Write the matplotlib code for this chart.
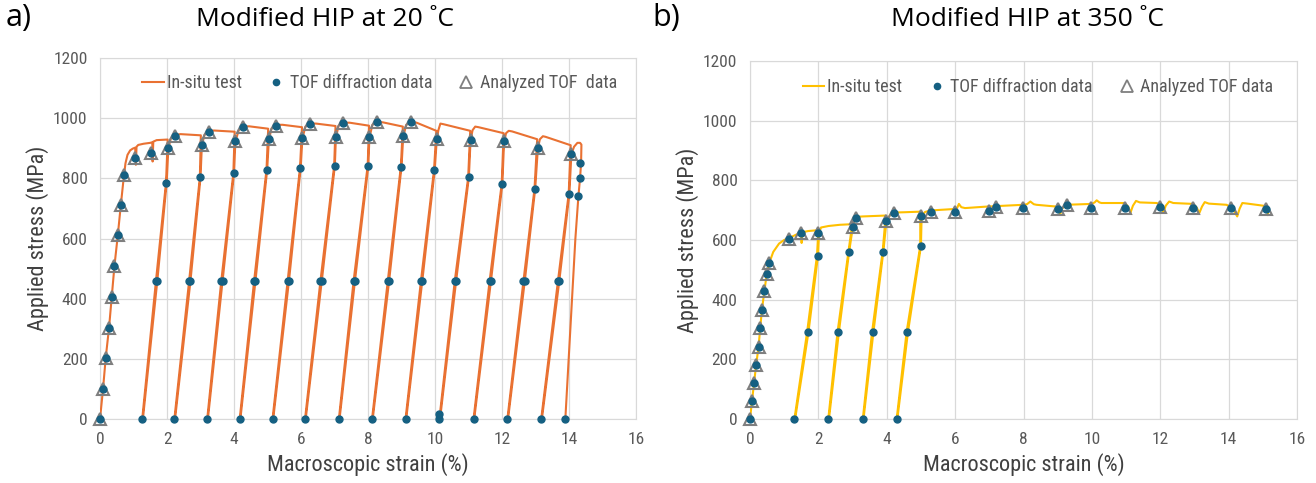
import matplotlib.pyplot as plt
from matplotlib.lines import Line2D

# ---------------- a) Modified HIP at 20 C ----------------
insitu20_strain = [
    0.00, 0.09, 0.17, 0.27, 0.35, 0.43, 0.53, 0.62, 0.71, 0.76, 0.82, 0.90, 0.98, 1.05, 1.07, 1.09, 1.14, 1.30, 1.50, 1.56, 1.57, 1.59, 1.69, 2.02,
    1.97, 1.67, 1.26, 1.28, 1.71, 1.99, 2.04, 2.12, 2.26, 2.40, 3.01,
    2.98, 2.66, 2.22, 2.24, 2.70, 3.00, 3.04, 3.12, 3.25, 3.40, 4.02,
    3.98, 3.62, 3.20, 3.22, 3.66, 4.00, 4.04, 4.14, 4.28, 4.45, 5.02,
    4.97, 4.60, 4.17, 4.19, 4.64, 4.99, 5.04, 5.12, 5.26, 5.45, 6.03,
    5.97, 5.60, 5.15, 5.17, 5.64, 5.99, 6.04, 6.13, 6.27, 6.45, 7.03,
    6.99, 6.58, 6.12, 6.14, 6.62, 7.01, 7.04, 7.12, 7.25, 7.45, 8.03,
    7.99, 7.57, 7.13, 7.15, 7.61, 8.01, 8.04, 8.13, 8.27, 8.45, 9.04,
    8.98, 8.59, 8.12, 8.14, 8.63, 9.00, 9.05, 9.14, 9.28, 9.45, 10.04,
    9.97, 9.58, 9.12, 9.14, 9.62, 9.99, 10.05, 10.10, 10.16, 10.25, 11.05,
    10.99, 10.59, 10.13, 10.15, 10.63, 11.01, 11.06, 11.12, 11.20, 11.30, 12.05,
    11.99, 11.63, 11.15, 11.17, 11.67, 12.01, 12.06, 12.12, 12.20, 12.30, 13.05,
    12.97, 12.64, 12.16, 12.18, 12.68, 12.99, 13.07, 13.13, 13.22, 13.30, 14.05,
    13.99, 13.67, 13.17, 13.19, 13.71, 14.01, 14.07, 14.15, 14.25, 14.33, 14.37,
    14.36, 14.33, 14.28, 14.19, 13.89,
]
insitu20_stress = [
    0, 100, 203, 304, 407, 508, 610, 710, 805, 850, 878, 893, 899, 902, 845, 905, 911, 915, 918, 920, 856, 922, 927, 929,
    786, 459, 0, 0, 459, 786, 900, 935, 944, 947, 943,
    803, 459, 0, 0, 459, 803, 910, 945, 957, 959, 955,
    817, 459, 0, 0, 459, 817, 922, 960, 972, 973, 965,
    829, 459, 0, 0, 459, 829, 928, 966, 978, 978, 970,
    835, 459, 0, 0, 459, 835, 932, 972, 982, 982, 974,
    842, 459, 0, 0, 459, 842, 934, 975, 985, 985, 975,
    842, 459, 0, 0, 459, 842, 934, 978, 988, 986, 972,
    839, 459, 0, 0, 459, 839, 938, 978, 988, 985, 958,
    827, 459, 0, 0, 459, 827, 925, 960, 982, 980, 958,
    803, 459, 0, 0, 459, 803, 925, 960, 972, 970, 950,
    781, 459, 0, 0, 459, 781, 920, 950, 958, 956, 930,
    765, 459, 0, 0, 459, 765, 900, 930, 940, 938, 910,
    748, 459, 0, 0, 459, 748, 880, 905, 918, 918, 912,
    851, 802, 740, 600, 0,
]

analyzed20_strain = [0.00, 0.09, 0.17, 0.27, 0.35, 0.43, 0.53, 0.62, 0.71, 1.03, 1.53,
                     2.04, 3.04, 4.04, 5.04, 6.04, 7.04, 8.04, 9.05, 10.06, 11.07, 12.07, 13.08, 14.07,
                     2.24, 3.25, 4.28, 5.25, 6.27, 7.25, 8.27, 9.28]
analyzed20_stress = [0, 100, 203, 304, 407, 508, 610, 710, 810, 868, 883,
                     900, 912, 924, 930, 934, 936, 936, 940, 931, 929, 925, 902, 882,
                     942, 955, 971, 975, 981, 984, 987, 987]

tof20_strain = [1.98, 2.99, 3.99, 4.98, 5.98, 7.00, 8.00, 8.99, 9.98, 11.00, 12.00, 12.98, 14.00,
                1.67, 2.66, 3.62, 4.60, 5.60, 6.58, 7.57, 8.59, 9.58, 10.59, 11.63, 12.64, 13.67,
                1.71, 2.70, 3.66, 4.64, 5.64, 6.62, 7.61, 8.63, 9.62, 10.63, 11.67, 12.68, 13.71,
                1.26, 2.22, 3.20, 4.17, 5.15, 6.12, 7.13, 8.12, 9.12, 10.13, 11.15, 12.16, 13.17, 13.89,
                10.13, 14.34, 14.33, 14.28]
tof20_stress = [786, 803, 817, 829, 835, 842, 842, 839, 827, 803, 781, 765, 748,
                459, 459, 459, 459, 459, 459, 459, 459, 459, 459, 459, 459, 459,
                459, 459, 459, 459, 459, 459, 459, 459, 459, 459, 459, 459, 459,
                0, 0, 0, 0, 0, 0, 0, 0, 0, 0, 0, 0, 0, 0,
                18, 851, 802, 740]

# ---------------- b) Modified HIP at 350 C ----------------
insitu350_strain = [
    0.00, 0.06, 0.12, 0.18, 0.25, 0.30, 0.35, 0.42, 0.49, 0.57, 0.68, 0.85, 1.00, 1.17, 1.35, 1.50, 1.51, 1.53, 1.70, 2.00,
    1.96, 1.67, 1.30, 1.32, 1.71, 1.99, 2.02, 2.08, 2.30, 2.63, 2.99,
    2.88, 2.56, 2.29, 2.31, 2.60, 2.90, 3.01, 3.08, 3.15, 3.30, 3.97,
    3.88, 3.57, 3.30, 3.32, 3.61, 3.90, 3.99, 4.10, 4.20, 4.50, 4.98,
    4.98, 4.58, 4.29, 4.31, 4.62, 5.00, 5.02, 5.12, 5.28, 5.99,
    6.05, 6.11, 6.18, 6.29, 6.92, 7.99, 8.10, 8.20, 8.30, 8.38, 8.97, 9.04, 9.07, 9.12, 9.25, 9.99,
    10.08, 10.14, 10.22, 10.28, 10.96, 11.06, 11.13, 11.20, 11.29, 11.40, 11.90, 12.02, 12.09, 12.16, 12.26, 12.38,
    12.96, 13.07, 13.14, 13.22, 13.30, 13.42, 13.94, 14.12, 14.25, 14.32, 14.40, 14.55, 15.01, 15.10, 15.16,
]
insitu350_stress = [
    0, 61, 122, 181, 242, 306, 367, 428, 486, 525, 560, 588, 600, 608, 618, 624, 590, 626, 630, 633,
    548, 291, 0, 0, 291, 548, 625, 642, 647, 651, 653,
    561, 291, 0, 0, 291, 561, 645, 670, 678, 679, 682,
    561, 291, 0, 0, 291, 561, 662, 685, 692, 693, 695,
    580, 291, 0, 0, 291, 580, 680, 694, 699, 704,
    705, 721, 710, 707, 712, 718, 720, 729, 720, 718, 712, 700, 684, 705, 718, 721,
    726, 733, 726, 724, 724, 712, 692, 715, 731, 726, 724, 712, 692, 715, 729, 724,
    721, 708, 690, 712, 727, 722, 718, 705, 679, 705, 724, 722, 715, 712, 684,
]

analyzed350_strain = [0.00, 0.06, 0.12, 0.18, 0.25, 0.30, 0.35, 0.42, 0.49, 0.57, 1.15, 1.50, 2.00,
                      3.01, 3.10, 3.99, 4.20, 4.99, 5.29, 5.99, 7.00, 7.19, 7.99, 9.00, 9.28, 9.98,
                      10.98, 11.98, 12.97, 14.06, 15.08]
analyzed350_stress = [0, 61, 122, 181, 242, 306, 367, 428, 486, 522, 605, 625, 625,
                      645, 673, 664, 690, 682, 695, 695, 698, 712, 706, 703, 718, 707,
                      707, 710, 708, 707, 704]

tof350_strain = [1.98, 2.89, 3.89, 4.99, 1.69, 2.58, 3.59, 4.60, 1.30, 2.29, 3.30, 4.29]
tof350_stress = [548, 561, 561, 580, 291, 291, 291, 291, 0, 0, 0, 0]

DOT = '#156082'
TRI = '#7F7F7F'
GRID = '#D9D9D9'
TXT = '#595959'
LABEL = '#404040'

plt.rcParams['font.family'] = ['Roboto Condensed', 'Liberation Sans Narrow', 'Roboto', 'DejaVu Sans']
TITLE_FONT = ['Open Sans', 'DejaVu Sans']

fig = plt.figure(figsize=(13.16, 4.83), dpi=100)
ax1 = fig.add_axes([0.076, 0.1325, 0.4073, 0.7474])
ax2 = fig.add_axes([0.5699, 0.1325, 0.4157, 0.7412])


def draw(ax, strain, stress, tri_x, tri_y, dot_x, dot_y, color, tri_label, anchor):
    ax.plot(strain, stress, color=color, lw=1.5, zorder=3)
    ax.plot(tri_x, tri_y, ls='none', marker='^', ms=9, mfc='none', mec=TRI, mew=1.5,
            zorder=4, clip_on=False)
    ax.plot(dot_x + tri_x, dot_y + tri_y, ls='none', marker='o', ms=5, color=DOT,
            zorder=5, clip_on=False)
    ax.set_xlim(0, 16)
    ax.set_ylim(0, 1200)
    ax.set_xticks(range(0, 17, 2))
    ax.set_yticks(range(0, 1201, 200))
    ax.grid(True, color=GRID, lw=0.9)
    ax.set_axisbelow(True)
    for s in ax.spines.values():
        s.set_color(GRID)
    ax.tick_params(length=0, labelsize=12.5, labelcolor=TXT, pad=9)
    ax.set_xlabel('Macroscopic strain (%)', fontsize=16, color=LABEL, labelpad=5)
    ax.set_ylabel('Applied stress (MPa)', fontsize=16, color=LABEL, labelpad=3)
    h_line = Line2D([], [], color=color, lw=1.5)
    h_dot = Line2D([], [], ls='none', marker='o', ms=4.5, color=DOT)
    h_tri = Line2D([], [], ls='none', marker='^', ms=8, mfc='none', mec=TRI, mew=1.3)
    ax.legend([h_line, h_dot, h_tri], ['In-situ test', 'TOF diffraction data', tri_label],
              ncol=3, loc='center right', bbox_to_anchor=anchor, frameon=False,
              fontsize=13, handlelength=1.2, handletextpad=0.15, columnspacing=1.3,
              borderpad=0, borderaxespad=0, labelcolor=TXT)


draw(ax1, insitu20_strain, insitu20_stress, analyzed20_strain, analyzed20_stress,
     tof20_strain, tof20_stress, '#E97132', 'Analyzed TOF  data', (0.965, 0.931))
draw(ax2, insitu350_strain, insitu350_stress, analyzed350_strain, analyzed350_stress,
     tof350_strain, tof350_stress, '#FFC000', 'Analyzed TOF data', (0.957, 0.927))

fig.text(0.004, 0.962, 'a)', fontsize=22, family=TITLE_FONT, va='center')
fig.text(0.247, 0.960, 'Modified HIP at 20 \u02daC', fontsize=19, family=TITLE_FONT,
         ha='center', va='center')
fig.text(0.496, 0.962, 'b)', fontsize=22, family=TITLE_FONT, va='center')
fig.text(0.781, 0.960, 'Modified HIP at 350 \u02daC', fontsize=19, family=TITLE_FONT,
         ha='center', va='center')

fig.savefig('out.png', dpi=100)
